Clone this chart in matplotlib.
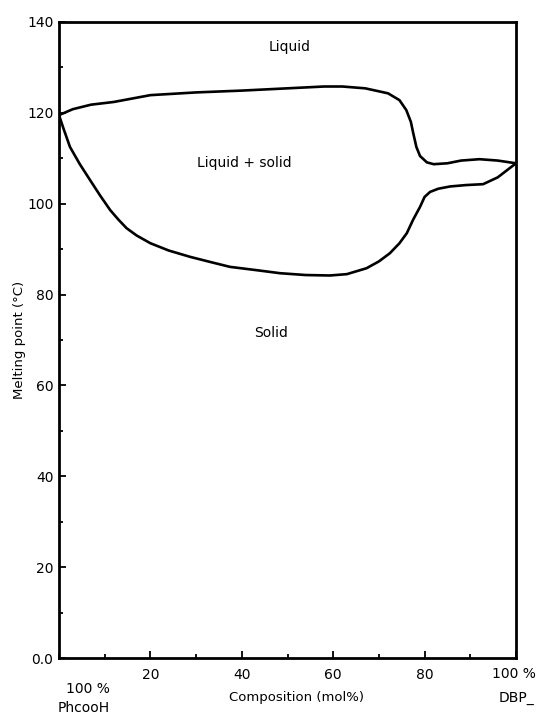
import matplotlib
matplotlib.use("Agg")
import matplotlib.pyplot as plt
from matplotlib.ticker import MultipleLocator, FixedLocator

# liquidus (upper boundary) of the PhCOOH / DBP system
liquidus_x = [0, 3, 7, 12, 20, 30, 40, 50, 58, 62, 67, 72, 74.5, 76, 77, 77.5,
              78.2, 79, 80.5, 82, 85, 88, 92, 96, 100]
liquidus_y = [119.5, 120.8, 121.8, 122.4, 123.9, 124.5, 124.9, 125.4, 125.8,
              125.8, 125.4, 124.3, 122.8, 120.6, 118.0, 115.6, 112.5, 110.5,
              109.1, 108.7, 108.9, 109.5, 109.8, 109.5, 108.9]

# solidus (lower boundary)
solidus_x = [0, 1, 2.4, 4.5, 6.8, 9, 11.2, 13, 14.8, 17, 20, 24, 28.7, 33, 37.4,
             43, 48.4, 54, 59.3, 63, 67.3, 70, 72.4, 74.5, 76.1, 77.5, 79, 80,
             81.2, 83, 85.6, 89, 92.8, 96, 100]
solidus_y = [119.5, 116.5, 112.5, 108.8, 105.2, 101.8, 98.6, 96.5, 94.6, 93.0,
             91.3, 89.7, 88.3, 87.2, 86.1, 85.4, 84.7, 84.3, 84.2, 84.5, 85.8,
             87.3, 89.1, 91.3, 93.5, 96.5, 99.3, 101.5, 102.6, 103.3, 103.8,
             104.1, 104.3, 105.8, 108.9]

x_ticks = [20, 40, 60, 80, 100]
x_tick_labels = ["20", "40", "60", "80", ""]
y_ticks = [0, 20, 40, 60, 80, 100, 120, 140]
y_tick_labels = ["0.0", "20", "40", "60", "80", "100", "120", "140"]

W, H = 538, 714
fig = plt.figure(figsize=(W / 100, H / 100), dpi=100)
ax = fig.add_axes([59 / W, 1 - 658 / H, (516 - 59) / W, (658 - 22) / H])

ax.plot(liquidus_x, liquidus_y, color="black", lw=1.9, solid_joinstyle="round")
ax.plot(solidus_x, solidus_y, color="black", lw=1.9, solid_joinstyle="round")

ax.set_xlim(0, 100)
ax.set_ylim(0, 140)

ax.xaxis.set_major_locator(FixedLocator(x_ticks))
ax.set_xticklabels(x_tick_labels)
ax.xaxis.set_minor_locator(MultipleLocator(10))
ax.yaxis.set_major_locator(FixedLocator(y_ticks))
ax.set_yticklabels(y_tick_labels)
ax.yaxis.set_minor_locator(MultipleLocator(10))

ax.tick_params(which="major", direction="in", length=5, width=1.3,
               labelsize=10, pad=4)
ax.tick_params(which="minor", direction="in", length=3, width=1.3)
ax.tick_params(axis="x", which="both", top=False)
ax.tick_params(axis="y", which="both", right=False)
ax.tick_params(axis="x", pad=7)

for side in ax.spines.values():
    side.set_linewidth(2.0)

ax.set_ylabel("Melting point (°C)", fontsize=9.5, labelpad=1)

ax.text(50.5, 134.5, "Liquid", fontsize=10, ha="center", va="center")
ax.text(40.5, 109, "Liquid + solid", fontsize=10, ha="center", va="center")
ax.text(46.5, 71.5, "Solid", fontsize=10, ha="center", va="center")

fig.text(297 / W, 1 - 698 / H, "Composition (mol%)", fontsize=9.5,
         ha="center", va="center")
fig.text(88 / W, 1 - 689 / H, "100 %", fontsize=10, ha="center", va="center")
fig.text(84 / W, 1 - 708 / H, "PhcooH", fontsize=10, ha="center", va="center")
fig.text(536 / W, 1 - 674 / H, "100 %", fontsize=10, ha="right", va="center")
fig.text(516 / W, 1 - 698 / H, "DBP_", fontsize=10, ha="center", va="center")

fig.savefig("out.png", dpi=100)
